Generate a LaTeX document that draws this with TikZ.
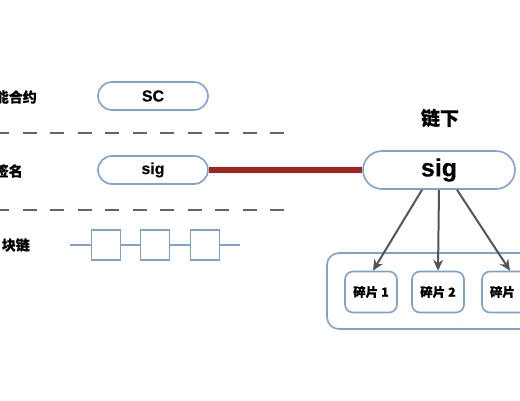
\documentclass[tikz,border=0pt]{standalone}
\usepackage{fontspec}
\setmainfont{Liberation Sans}[FakeBold=0.4]
\newfontfamily\cjk{Noto Sans CJK SC}[FakeBold=0.5]
\definecolor{edgeblue}{RGB}{127,162,206}
\definecolor{sigred}{RGB}{163,36,30}
\definecolor{dashgray}{RGB}{100,100,100}
\definecolor{arrowgray}{RGB}{85,85,85}
\usetikzlibrary{arrows.meta}
\begin{document}
\begin{tikzpicture}
  [x=1pt,y=-1pt,
   pill/.style={draw=edgeblue,line width=1.6pt,fill=white,rounded corners=14pt,minimum width=110pt,minimum height=28pt,font=\bfseries\fontsize{16}{18}\selectfont},
   frag/.style={draw=edgeblue,line width=1.6pt,fill=white,rounded corners=8pt,minimum width=52pt,minimum height=41pt,inner sep=0pt,font=\cjk\bfseries\fontsize{12.5}{14}\selectfont},
   lbl/.style={anchor=east,inner sep=0pt,font=\cjk\bfseries\fontsize{14}{16}\selectfont},
   blk/.style={draw=edgeblue,line width=1.3pt,fill=white,minimum width=29pt,minimum height=30pt,inner sep=0pt}]
\useasboundingbox (0,0) rectangle (520,400);
\clip (0,0) rectangle (520,400);

% left side labels
\node (l1)[lbl] at (37,97) {能合约};
\node (l2)[lbl] at (23,171) {签名};
\node (l3)[lbl] at (30,245) {块链};

\draw [dashgray,line width=2.2pt,dash pattern=on 14pt off 13.5pt] (-5,133) -- (284,133);
\draw [dashgray,line width=2.2pt,dash pattern=on 14pt off 13.5pt] (-5,210) -- (284,210);

\node (sc)[pill] at (153,96) {SC};
\node (sigL)[pill] at (153,170) {sig};

% chain
\coordinate (cA) at (70,245);
\coordinate (cB) at (240,245);
\draw [edgeblue,line width=1.3pt] (cA) -- (cB);
\node (b1)[blk] at (106,245) {};
\node (b2)[blk] at (155,245) {};
\node (b3)[blk] at (205,245) {};

% off chain
\node (off)[font=\cjk\bfseries\fontsize{19}{21}\selectfont] at (440,118) {链下};
\node (sigR)[pill,minimum width=152pt,minimum height=38pt,rounded corners=19pt,font=\bfseries\fontsize{25}{27}\selectfont] at (439,170) {sig};
\draw [sigred,line width=5.5pt] (sigL.east) -- (sigR.west);

\draw [edgeblue,line width=1.6pt,rounded corners=12pt] (327,253) rectangle (560,329);
\node (f1)[frag] at (371,292) {碎片 1};
\node (f2)[frag] at (438,292) {碎片 2};
\node (f3)[frag,align=left,text width=36pt] at (508,292) {碎片};

\path [line width=2pt,arrowgray] ([xshift=-17pt]sigR.south) edge [-{Stealth[length=11pt,width=10pt]}] ([xshift=2pt]f1.north);
\path [line width=2pt,arrowgray] (sigR.south) edge [-{Stealth[length=11pt,width=10pt]}] (f2.north);
\path [line width=2pt,arrowgray] ([xshift=18pt]sigR.south) edge [-{Stealth[length=11pt,width=10pt]}] ([xshift=2pt]f3.north);
\end{tikzpicture}
\end{document}
